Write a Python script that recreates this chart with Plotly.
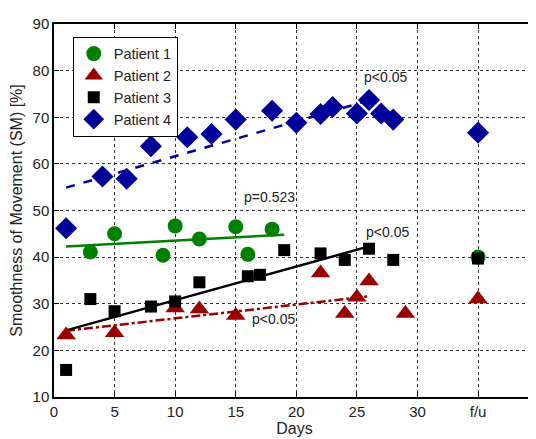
import plotly.graph_objects as go

# Patient 1 (green circles)
p1_x = [3, 5, 9, 10, 12, 15, 16, 18, 35]
p1_y = [41.1, 45.0, 40.4, 46.7, 43.9, 46.5, 40.6, 46.0, 40.0]
# Patient 2 (red triangles)
p2_x = [1, 5, 10, 12, 15, 22, 24, 25, 26, 29, 35]
p2_y = [23.3, 23.8, 29.1, 28.9, 27.5, 36.6, 27.9, 31.4, 34.9, 27.9, 31.0]
# Patient 3 (black squares)
p3_x = [1, 3, 5, 8, 10, 12, 16, 17, 19, 22, 24, 26, 28, 35]
p3_y = [15.8, 31.0, 28.4, 29.4, 30.5, 34.6, 35.9, 36.2, 41.5, 40.8, 39.4, 41.8, 39.4, 39.7]
# Patient 4 (blue diamonds)
p4_x = [1, 4, 6, 8, 11, 13, 15, 18, 20, 22, 23, 25, 26, 27, 28, 35]
p4_y = [46.2, 57.3, 56.8, 63.8, 65.7, 66.4, 69.5, 71.4, 68.8, 70.7, 72.2, 70.8, 73.7, 70.8, 69.5, 66.7]

# Trend lines (start/end)
t1_x = [1, 19]; t1_y = [42.3, 44.8]
t2_x = [1, 26]; t2_y = [24.2, 31.6]
t3_x = [1, 26]; t3_y = [24.3, 42.3]
t4_x = [1, 26]; t4_y = [54.9, 73.6]

x_ticks = [0, 5, 10, 15, 20, 25, 30, 35]
x_labels = ["0", "5", "10", "15", "20", "25", "30", "f/u"]
y_ticks = [10, 20, 30, 40, 50, 60, 70, 80, 90]

GREEN = "#008000"
RED = "#990000"
BLACK = "#000000"
BLUE = "#000099"

fig = go.Figure()
# trend lines
fig.add_trace(go.Scatter(x=t1_x, y=t1_y, mode="lines", line=dict(color=GREEN, width=2.5), showlegend=False))
fig.add_trace(go.Scatter(x=t2_x, y=t2_y, mode="lines", line=dict(color=RED, width=2.5, dash="dashdot"), showlegend=False))
fig.add_trace(go.Scatter(x=t3_x, y=t3_y, mode="lines", line=dict(color=BLACK, width=2.5), showlegend=False))
fig.add_trace(go.Scatter(x=t4_x, y=t4_y, mode="lines", line=dict(color=BLUE, width=2.5, dash="dash"), showlegend=False))

fig.add_trace(go.Scatter(x=p1_x, y=p1_y, mode="markers", name="Patient 1",
                         marker=dict(symbol="circle", size=15, color=GREEN, line=dict(width=0))))
fig.add_trace(go.Scatter(x=p2_x, y=p2_y, mode="markers", name="Patient 2",
                         marker=dict(symbol="triangle-up", size=17, color=RED, line=dict(width=0))))
fig.add_trace(go.Scatter(x=p3_x, y=p3_y, mode="markers", name="Patient 3",
                         marker=dict(symbol="square", size=12, color=BLACK, line=dict(width=0))))
fig.add_trace(go.Scatter(x=p4_x, y=p4_y, mode="markers", name="Patient 4",
                         marker=dict(symbol="diamond", size=17, color=BLUE, line=dict(width=0))))

ann_font = dict(family="Liberation Sans, Arial, sans-serif", size=14, color="#222")
anns = [
    (25.4, 78.7, "p<0.05"),
    (15.5, 52.8, "p=0.523"),
    (25.6, 45.3, "p<0.05"),
    (16.2, 26.8, "p<0.05"),
]
for ax_, ay_, txt in anns:
    fig.add_annotation(x=ax_, y=ay_, text=txt, showarrow=False, xanchor="left",
                       yanchor="middle", font=ann_font)

fig.update_layout(
    width=536, height=439,
    margin=dict(l=46, r=8, t=7, b=50),
    plot_bgcolor="white", paper_bgcolor="white",
    font=dict(family="Liberation Sans, Arial, sans-serif", size=15, color="#222"),
    legend=dict(x=0.039, y=0.966, xanchor="left", yanchor="top",
                bgcolor="white", bordercolor="black", borderwidth=1,
                font=dict(size=14.5), itemsizing="trace", tracegroupgap=0),
    showlegend=True,
)
fig.update_xaxes(range=[0, 39.7], tickvals=x_ticks, ticktext=x_labels,
                 showgrid=True, gridcolor="#333", griddash="dot", gridwidth=1,
                 showline=True, linecolor="black", linewidth=1.5, mirror="ticks",
                 ticks="inside", ticklen=5, tickcolor="black",
                 zeroline=False,
                 title=dict(text="Days", font=dict(size=16), standoff=4))
fig.update_yaxes(range=[10, 90], tickvals=y_ticks,
                 showgrid=True, gridcolor="#333", griddash="dot", gridwidth=1,
                 showline=True, linecolor="black", linewidth=1.5, mirror="ticks",
                 ticks="inside", ticklen=5, tickcolor="black",
                 zeroline=False,
                 title=dict(text="Smoothness of Movement (SM) [%]", font=dict(size=16), standoff=6))

fig.write_html("out.html")
